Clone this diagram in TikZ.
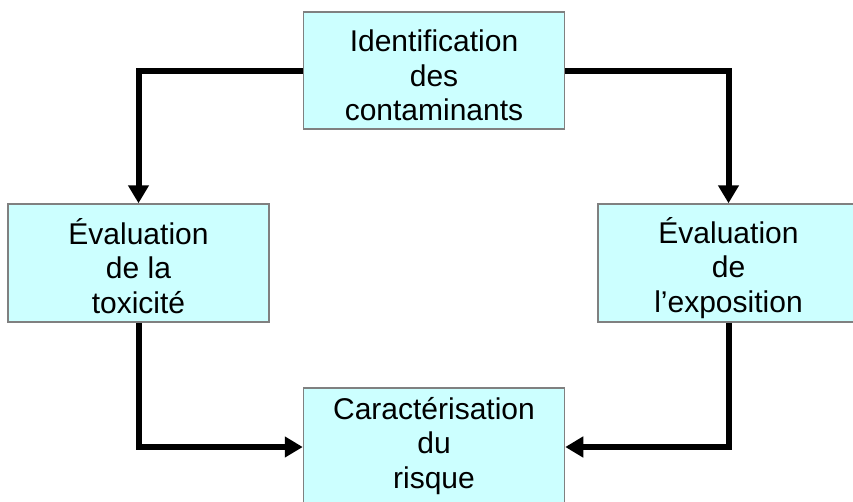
\documentclass[tikz,border=0pt]{standalone}
\usepackage{fontspec}
\setmainfont{Liberation Sans}
\usetikzlibrary{arrows.meta}
\definecolor{boxfill}{RGB}{204,255,255}
\definecolor{boxline}{RGB}{128,128,128}
\begin{document}
\begin{tikzpicture}[x=1pt,y=-1pt,
  box/.style={draw=boxline, line width=1.5pt, fill=boxfill, minimum width=261pt,
    minimum height=118pt, inner sep=0pt},
  lbl/.style={inner sep=0pt, align=center, font=\fontsize{30}{34.5}\selectfont},
  conn/.style={line width=6pt, -{Triangle[width=20pt,length=18pt]}}]
\useasboundingbox (0,0) rectangle (853,501);
\clip (0,0) rectangle (853,501);
\node[box, minimum height=117pt] (top) at (434,70.5) {};
\node[box] (left) at (138.5,263) {};
\node[box] (right) at (728.5,263) {};
\node[box] (bot) at (434,447) {};
\node[lbl] (toplbl) at ([yshift=-5pt]top.center) {Identification\\des\\contaminants};
\node[lbl] (leftlbl) at ([yshift=-3pt]left.center) {Évaluation\\de la\\toxicité};
\node[lbl] (rightlbl) at ([yshift=-5pt]right.center) {Évaluation\\de\\l’exposition};
\node[lbl] (botlbl) at (434,446) {Caractérisation\\du\\risque};
\draw[conn] (top.west) -| (left.north);
\draw[conn] (top.east) -| (right.north);
\draw[conn] (left.south) |- (bot.west);
\draw[conn] (right.south) |- (bot.east);
\end{tikzpicture}
\end{document}
